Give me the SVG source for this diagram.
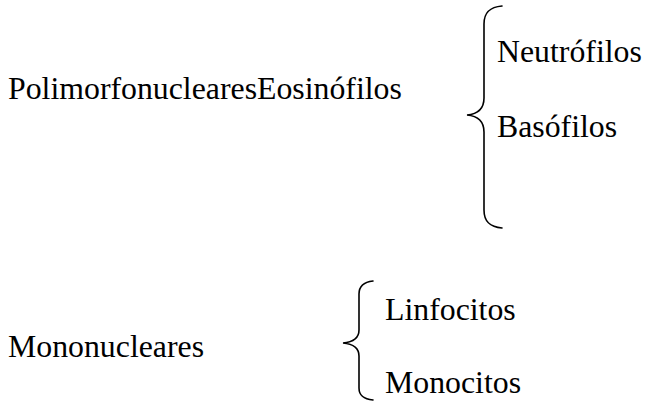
<svg xmlns="http://www.w3.org/2000/svg" width="646" height="403" viewBox="0 0 646 403">
<style>
.t{font-family:'Liberation Serif','Times New Roman',Times,serif;font-size:31.8px;fill:#000}
.brace{fill:none;stroke:#000;stroke-width:1.6;stroke-linecap:round}
</style>
<rect width="646" height="403" fill="#fff"/>
<g id="polimorfonucleares"><text class="t" x="8" y="99">PolimorfonuclearesEosinófilos</text></g>
<g id="neutrofilos"><text class="t" x="497" y="62">Neutrófilos</text></g>
<g id="basofilos"><text class="t" x="497" y="137">Basófilos</text></g>
<g id="mononucleares"><text class="t" x="8" y="357">Mononucleares</text></g>
<g id="linfocitos"><text class="t" x="385" y="320">Linfocitos</text></g>
<g id="monocitos"><text class="t" x="385" y="393">Monocitos</text></g>
<g id="connectors">
<path class="brace" d="M502,6 C490,7 484,12 484,24 L484,98 C484,108 478,114 467,115 C478,116 484,122 484,132 L484,210 C484,222 490,227 502,228"/>
<path class="brace" d="M373,281 C364,282 359,286 359,294 L359,330 C359,338 354,342 343,343 C354,344 359,348 359,356 L359,388 C359,396 364,399 373,400"/>
</g>
</svg>
